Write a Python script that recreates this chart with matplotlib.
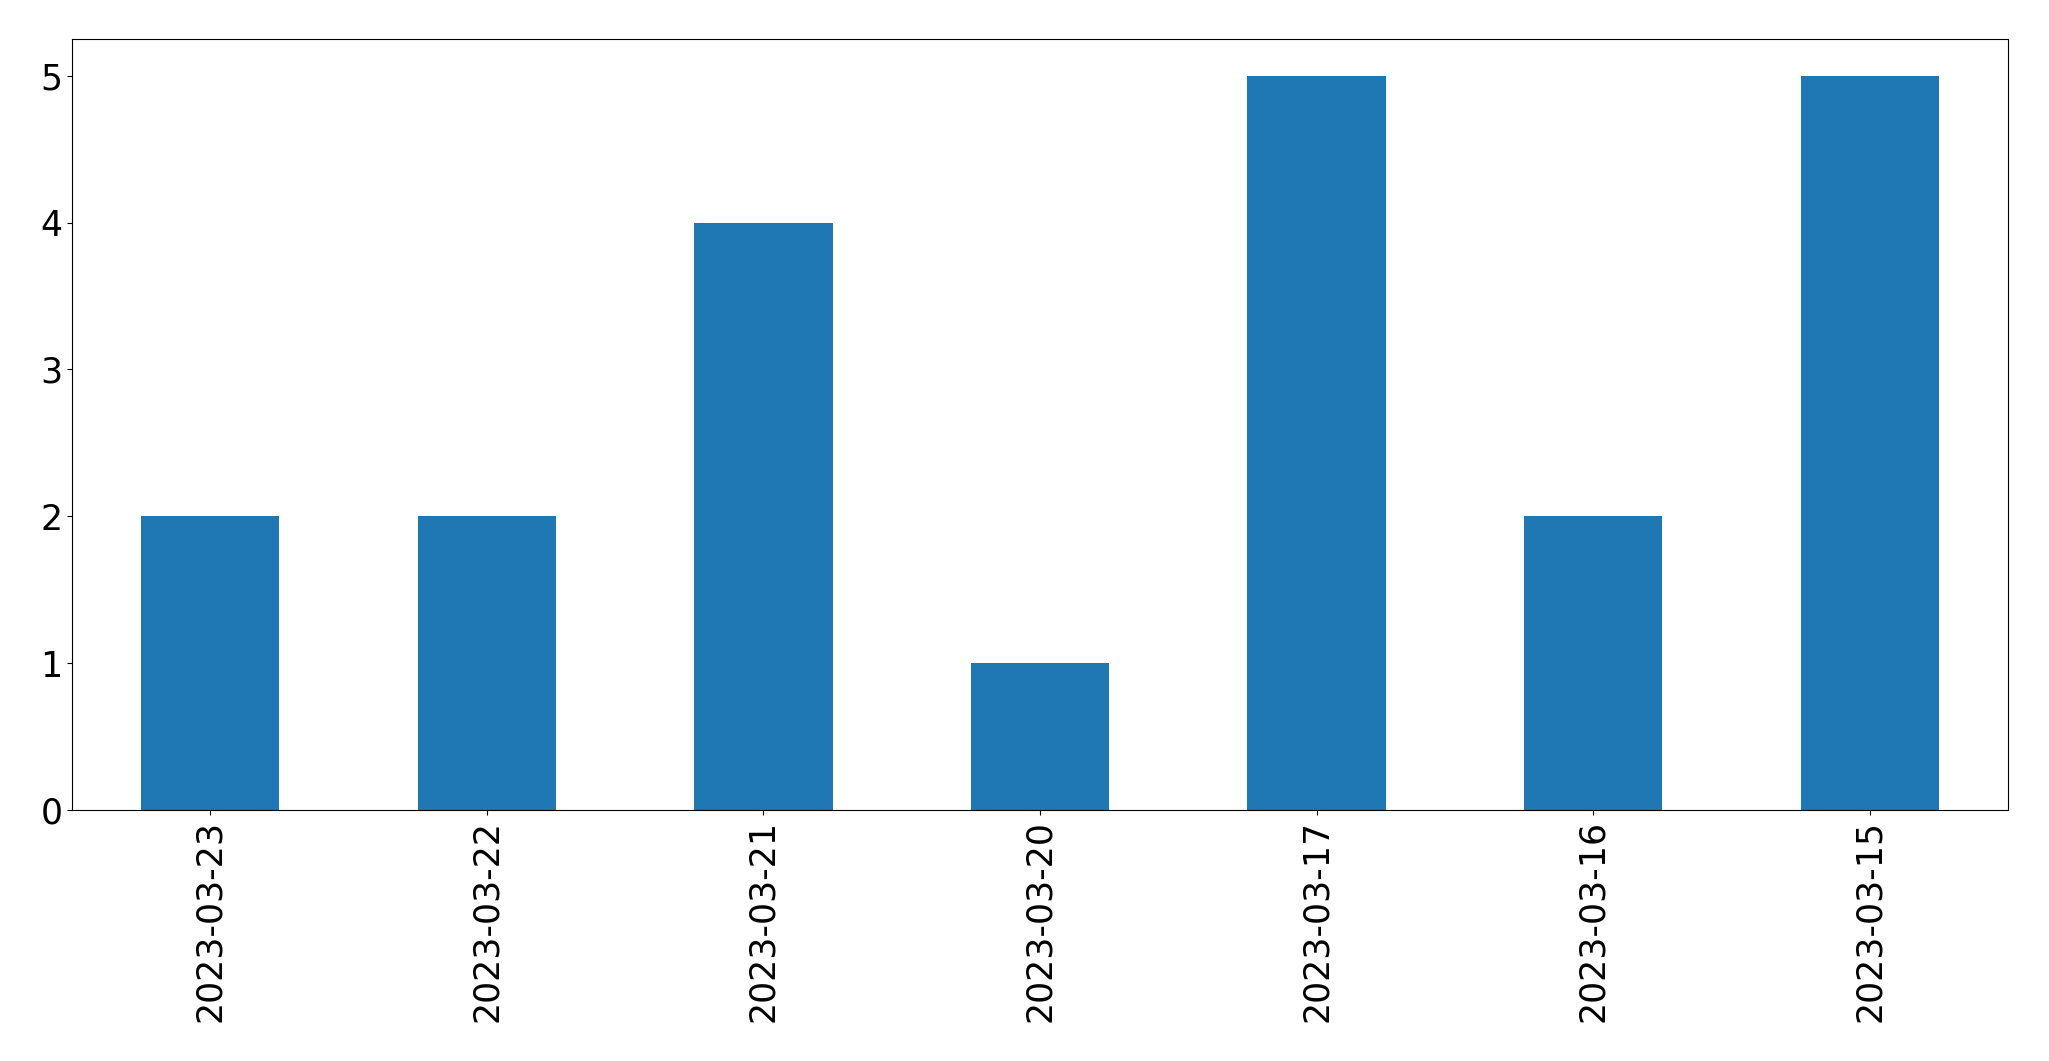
import matplotlib
matplotlib.use("Agg")
import matplotlib.pyplot as plt

dates = ["2023-03-23", "2023-03-22", "2023-03-21", "2023-03-20", "2023-03-17", "2023-03-16", "2023-03-15"]
counts = [2, 2, 4, 1, 5, 2, 5]

fig = plt.figure(figsize=(20.49, 10.61), dpi=100)
ax = fig.add_axes([72/2049, 1 - 810/1061, (2008-72)/2049, (810-39)/1061])
x = list(range(len(dates)))
ax.bar(x, counts, width=0.5, color="#1f77b4")
ax.set_xlim(-0.5, len(dates) - 0.5)
ax.set_xticks(x)
ax.set_xticklabels(dates, rotation=90)
ax.tick_params(axis="both", labelsize=25)
fig.savefig("out.png", dpi=100)
